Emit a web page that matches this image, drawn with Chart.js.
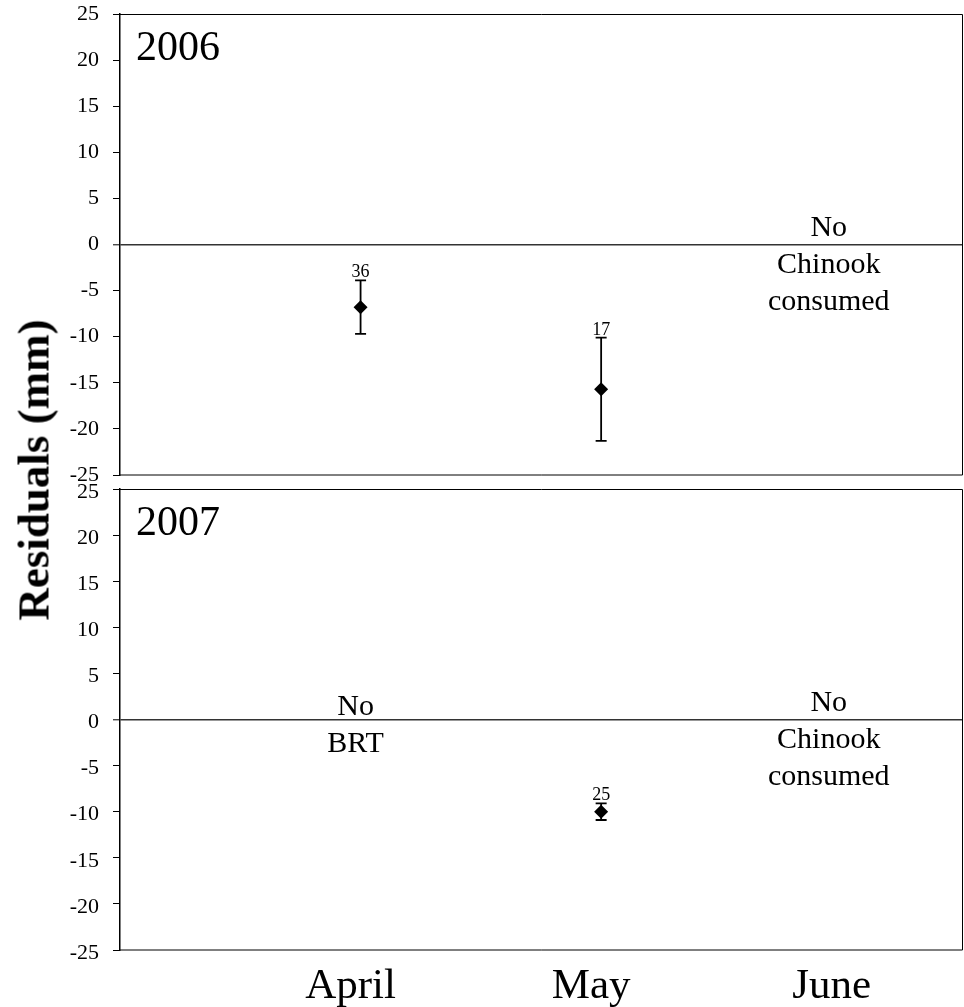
<!DOCTYPE html>
<html>
<head>
<meta charset="utf-8">
<title>Residuals (mm) by month, 2006 and 2007</title>
<script src="https://cdn.jsdelivr.net/npm/chart.js@4.4.1/dist/chart.umd.min.js"></script>
<style>
  html, body { margin: 0; padding: 0; background: #fff; }
  #wrap { position: relative; width: 964px; height: 1007px; overflow: hidden; }
  #top { position: absolute; left: 0; top: 0; }
  #bottom { position: absolute; left: 0; top: 466px; }
  #ytitle {
    position: absolute; left: 34px; top: 470px;
    transform: translate(-50%, -50%) rotate(-90deg);
    font: bold 45px 'Liberation Serif', 'Times New Roman', serif;
    line-height: 1; white-space: nowrap; color: #000;
  }
</style>
</head>
<body>
<div id="wrap">
  <canvas id="top" width="964" height="492"></canvas>
  <canvas id="bottom" width="964" height="541"></canvas>
  <div id="ytitle">Residuals (mm)</div>
</div>
<script>
// Datos
const months = ['April', 'May', 'June'];
const monthPos = [1, 2, 3];
const yMin = -25;
const yMax = 25;
const yStep = 5;

const mean2006 = [-6.8, -15.7, null];
const err2006 = [2.9, 5.6, null];
const n2006 = [36, 17, null];
const notes2006 = [null, null, ['No', 'Chinook', 'consumed']];

const mean2007 = [null, -10.0, null];
const err2007 = [null, 0.9, null];
const n2007 = [null, 25, null];
const notes2007 = [['No', 'BRT'], null, ['No', 'Chinook', 'consumed']];

const SERIF = "'Liberation Serif', 'Times New Roman', serif";

/**
 * Barras de error, n, notas, marco y año de cada panel
 */
const panelPlugin = {
  id: 'panel',
  beforeDatasetsDraw(chart, args, opts) {
    const { ctx } = chart;
    const xs = chart.scales.x;
    const ys = chart.scales.y;
    ctx.save();
    ctx.strokeStyle = '#000';
    ctx.lineWidth = 1.8;
    ctx.fillStyle = '#000';
    ctx.font = '18px ' + SERIF;
    ctx.textAlign = 'center';
    ctx.textBaseline = 'alphabetic';
    opts.means.forEach((m, i) => {
      if (m == null) return;
      const px = xs.getPixelForValue(monthPos[i]);
      const top = ys.getPixelForValue(m + opts.errs[i]);
      const bot = ys.getPixelForValue(m - opts.errs[i]);
      ctx.beginPath();
      ctx.moveTo(px, top); ctx.lineTo(px, bot);
      ctx.moveTo(px - 5.5, top); ctx.lineTo(px + 5.5, top);
      ctx.moveTo(px - 5.5, bot); ctx.lineTo(px + 5.5, bot);
      ctx.stroke();
      if (opts.counts[i] != null) {
        ctx.fillText(String(opts.counts[i]), px, top - 3);
      }
    });
    ctx.restore();
  },
  afterDraw(chart, args, opts) {
    const { ctx, chartArea } = chart;
    const xs = chart.scales.x;
    const ys = chart.scales.y;
    ctx.save();
    // marco
    ctx.strokeStyle = '#000';
    ctx.lineWidth = 1;
    ctx.beginPath();
    ctx.moveTo(chartArea.left, chartArea.top + 0.5);
    ctx.lineTo(chartArea.right + 0.5, chartArea.top + 0.5);
    ctx.lineTo(chartArea.right + 0.5, chartArea.bottom);
    ctx.lineTo(chartArea.left, chartArea.bottom);
    ctx.stroke();

    // notas de texto
    ctx.fillStyle = '#000';
    ctx.textAlign = 'center';
    ctx.textBaseline = 'alphabetic';
    ctx.font = '30px ' + SERIF;
    const zeroY = ys.getPixelForValue(0);
    opts.notes.forEach((lines, i) => {
      if (!lines) return;
      const px = xs.getPixelForValue(monthPos[i]) + opts.noteShift[i];
      let py = zeroY - opts.noteLift[i];
      lines.forEach(t => {
        ctx.fillText(t, px, py);
        py += 37;
      });
    });

    // año
    ctx.textAlign = 'left';
    ctx.font = '42px ' + SERIF;
    ctx.fillText(opts.year, chartArea.left + 16, chartArea.top + 46);
    ctx.restore();
  }
};

// sin márgenes extra por las etiquetas: el área la fija layout.padding
function noScalePadding(scale) {
  scale.paddingTop = 0;
  scale.paddingBottom = 0;
  scale.paddingLeft = 0;
  scale.paddingRight = 0;
}

function yScale(labelShift) {
  return {
    min: yMin,
    max: yMax,
    afterBuildTicks: scale => {
      const t = [];
      for (let v = yMin; v <= yMax; v += yStep) t.push({ value: v });
      scale.ticks = t;
    },
    afterFit: scale => {
      scale.width = 120;
      noScalePadding(scale);
    },
    ticks: {
      color: '#000',
      padding: 14,
      labelOffset: labelShift,
      font: { family: SERIF, size: 22 }
    },
    grid: {
      drawTicks: true,
      tickLength: 7,
      tickColor: '#000',
      tickWidth: 1,
      color: c => (c.tick && c.tick.value === 0 ? '#333' : 'rgba(0,0,0,0)'),
      lineWidth: c => (c.tick && c.tick.value === 0 ? 1.6 : 1)
    },
    border: { display: true, color: '#000', width: 1.5 }
  };
}

function xScale(show) {
  return {
    type: 'linear',
    min: 0,
    max: 3.5,
    display: show,
    afterBuildTicks: scale => {
      scale.ticks = monthPos.map(v => ({ value: v }));
    },
    afterFit: scale => {
      if (show) scale.height = 57;
      noScalePadding(scale);
    },
    ticks: {
      color: '#000',
      padding: 11,
      labelOffset: -10,
      autoSkip: false,
      maxRotation: 0,
      font: { family: SERIF, size: 43 },
      callback: v => months[monthPos.indexOf(v)]
    },
    grid: { display: false, drawTicks: false },
    border: { display: false }
  };
}

function points(means) {
  return means
    .map((m, i) => (m == null ? null : { x: monthPos[i], y: m }))
    .filter(p => p);
}

function buildPanel(id, year, means, errs, counts, notes, padding, showX) {
  const ctx = document.getElementById(id);
  return new Chart(ctx, {
    type: 'scatter',
    data: {
      datasets: [{
        data: points(means),
        pointStyle: 'rectRot',
        pointRadius: 7,
        pointHoverRadius: 7,
        backgroundColor: '#000',
        borderColor: '#000',
        borderWidth: 0
      }]
    },
    options: {
      responsive: false,
      animation: false,
      events: [],
      layout: { padding: padding, autoPadding: false },
      plugins: {
        legend: { display: false },
        tooltip: { enabled: false },
        panel: {
          year: year,
          means: means,
          errs: errs,
          counts: counts,
          notes: notes,
          noteShift: [-5, 0, -13],
          noteLift: [5, 0, 9]
        }
      },
      scales: {
        x: xScale(showX),
        y: yScale(showX ? 3 : 0)
      }
    },
    plugins: [panelPlugin]
  });
}

function initCharts() {
  if (typeof Chart === 'undefined') {
    console.error('Chart.js no está cargado');
    return;
  }
  buildPanel('top', '2006', mean2006, err2006, n2006, notes2006,
    { top: 14, right: 2, bottom: 17, left: 0 }, false);
  buildPanel('bottom', '2007', mean2007, err2007, n2007, notes2007,
    { top: 23, right: 2, bottom: 0, left: 0 }, true);
}

if (document.readyState === 'loading') {
  document.addEventListener('DOMContentLoaded', initCharts);
} else {
  initCharts();
}
</script>
</body>
</html>
